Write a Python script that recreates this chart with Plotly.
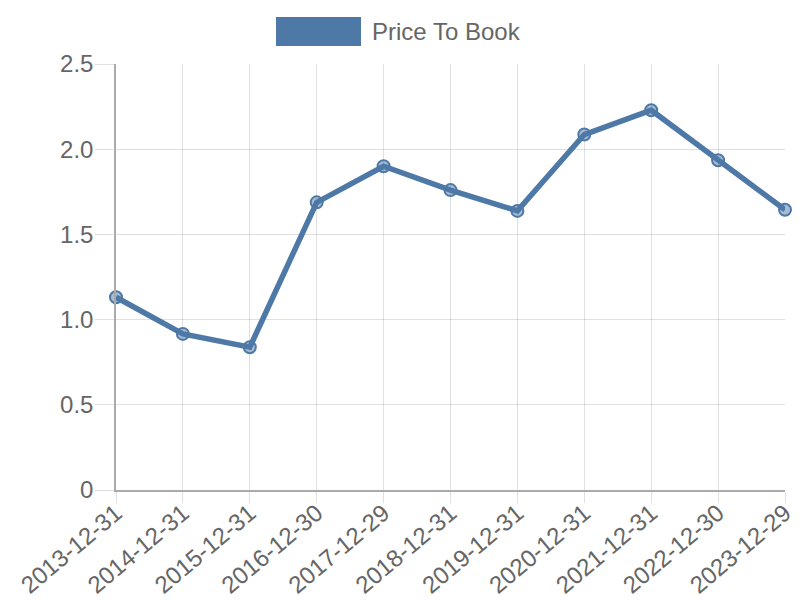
import plotly.graph_objects as go

dates = ["2013-12-31", "2014-12-31", "2015-12-31", "2016-12-30", "2017-12-29",
         "2018-12-31", "2019-12-31", "2020-12-31", "2021-12-31", "2022-12-30", "2023-12-29"]
price_to_book = [1.131, 0.916, 0.838, 1.688, 1.900, 1.760, 1.638, 2.086, 2.229, 1.935, 1.645]
series_name = "Price To Book"
y_tick_vals = [0, 0.5, 1.0, 1.5, 2.0, 2.5]
y_tick_text = ["0", "0.5", "1.0", "1.5", "2.0", "2.5"]

BLUE = "#4e79a7"
FONT = "Liberation Sans, Arial, sans-serif"
GRID = "rgba(0,0,0,0.12)"
AXIS = "#aaaaaa"

fig = go.Figure()
fig.add_trace(go.Scatter(
    x=dates, y=price_to_book, name=series_name, mode="lines+markers",
    line=dict(color=BLUE, width=5.5),
    marker=dict(size=12, color="rgba(78,121,167,0.5)", line=dict(color=BLUE, width=2)),
    cliponaxis=False, showlegend=False,
))

fig.update_layout(
    width=800, height=600,
    margin=dict(l=116, r=15, t=64, b=110),
    paper_bgcolor="white", plot_bgcolor="white",
    font=dict(family=FONT, size=24, color="#666"),
    xaxis=dict(type="category", range=[0, len(dates) - 1], automargin=False,
               showgrid=True, gridcolor=GRID, gridwidth=1,
               showline=True, linecolor=AXIS, linewidth=1.5,
               ticks="outside", ticklen=11, tickcolor=GRID, tickangle=-40,
               ticklabelstandoff=-13,
               tickfont=dict(size=24, color="#666")),
    yaxis=dict(range=[0, 2.5], tickvals=y_tick_vals, ticktext=y_tick_text, automargin=False,
               showgrid=True, gridcolor=GRID, gridwidth=1, zeroline=False,
               showline=True, linecolor=AXIS, linewidth=1.5,
               ticks="outside", ticklen=19, tickcolor=GRID, ticklabelstandoff=-3,
               tickfont=dict(size=24, color="#666")),
    shapes=[dict(type="rect", xref="paper", yref="paper",
                 x0=(276 - 116) / 669, x1=(361 - 116) / 669,
                 y0=(490 - 46) / 426, y1=(490 - 17) / 426,
                 fillcolor=BLUE, line=dict(width=0))],
    annotations=[dict(text=series_name, xref="paper", yref="paper",
                      x=(370 - 116) / 669, y=(490 - 31.5) / 426,
                      xanchor="left", yanchor="middle", showarrow=False,
                      font=dict(family=FONT, size=24, color="#666"))],
)

fig.write_html("out.html", config={"displayModeBar": False},
               post_script="document.body.style.margin='0';document.body.style.overflow='hidden';")
